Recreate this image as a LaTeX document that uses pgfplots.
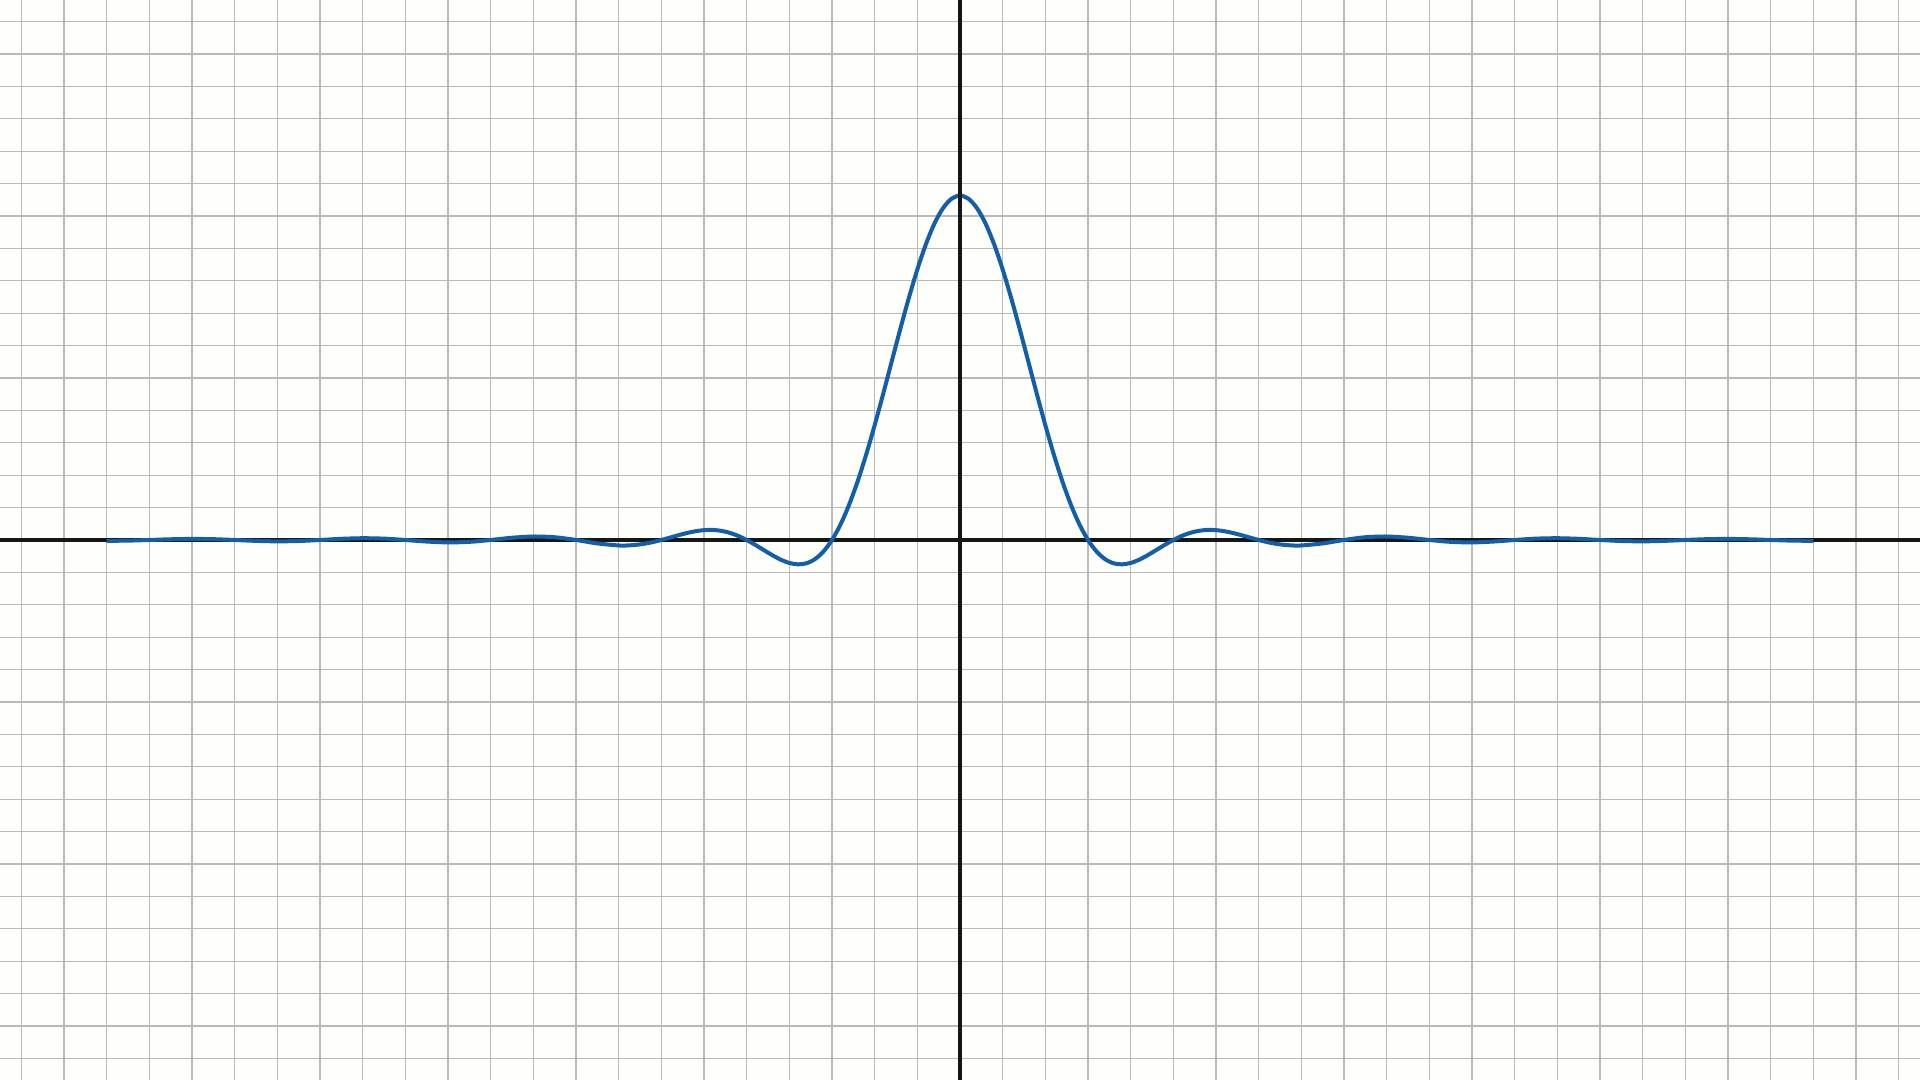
\documentclass[border=0pt]{standalone}
\usepackage{pgfplots}
\pgfplotsset{compat=1.18}
\usepackage{pgfplotstable}
\definecolor{bgcol}{RGB}{254,254,250}
\definecolor{gridcol}{RGB}{186,186,186}
\definecolor{curvecol}{RGB}{18,94,168}
\definecolor{axcol}{RGB}{22,22,22}
\pgfplotstableread{
x y
-20 -0.0266
-19.5 -0.0198
-19 0
-18.5 0.0220
-18 0.0329
-17.5 0.0246
-17 0
-16.5 -0.0277
-16 -0.0417
-15.5 -0.0314
-15 0
-14.5 0.0359
-14 0.0545
-13.5 0.0415
-13 0
-12.5 -0.0484
-12 -0.0743
-11.5 -0.0573
-11 0
-10.5 0.0688
-10 0.1074
-9.5 0.0842
-9 0
-8.5 -0.1055
-8.0 -0.169
-7.8 -0.169
-7.6 -0.151
-7.4 -0.116
-7.2 -0.065
-7.0 0
-6.8 0.073
-6.6 0.147
-6.4 0.215
-6.2 0.270
-6.0 0.304
-5.8 0.310
-5.6 0.283
-5.4 0.222
-5.2 0.126
-5.0 0
-4.8 -0.149
-4.6 -0.310
-4.4 -0.468
-4.2 -0.608
-4.0 -0.709
-3.8 -0.752
-3.6 -0.719
-3.4 -0.592
-3.2 -0.355
-3.0 0
-2.8 0.480
-2.6 1.085
-2.4 1.807
-2.2 2.633
-2.0 3.543
-1.8 4.513
-1.6 5.513
-1.4 6.509
-1.2 7.466
-1.0 8.349
-0.8 9.125
-0.6 9.763
-0.4 10.238
-0.2 10.531
0 10.630
0.2 10.531
0.4 10.238
0.6 9.763
0.8 9.125
1.0 8.349
1.2 7.466
1.4 6.509
1.6 5.513
1.8 4.513
2.0 3.543
2.2 2.633
2.4 1.807
2.6 1.085
2.8 0.480
3.0 0
3.2 -0.355
3.4 -0.592
3.6 -0.719
3.8 -0.752
4.0 -0.709
4.2 -0.608
4.4 -0.468
4.6 -0.310
4.8 -0.149
5.0 0
5.2 0.126
5.4 0.222
5.6 0.283
5.8 0.310
6.0 0.304
6.2 0.270
6.4 0.215
6.6 0.147
6.8 0.073
7.0 0
7.2 -0.065
7.4 -0.116
7.6 -0.151
7.8 -0.169
8.0 -0.169
8.5 -0.1055
9 0
9.5 0.0842
10 0.1074
10.5 0.0688
11 0
11.5 -0.0573
12 -0.0743
12.5 -0.0484
13 0
13.5 0.0415
14 0.0545
14.5 0.0359
15 0
15.5 -0.0314
16 -0.0417
16.5 -0.0277
17 0
17.5 0.0246
18 0.0329
18.5 0.0220
19 0
19.5 -0.0198
20 -0.0266
}\curvedata
\begin{document}
\begin{tikzpicture}
\begin{axis}[
  name=ax,
  width=480pt, height=270pt, scale only axis,
  xmin=-22.5, xmax=22.5, ymin=-16.6667, ymax=16.6667,
  xtick={-22,-21,...,22}, ytick={-16,-15,...,16},
  xticklabels={}, yticklabels={},
  major tick length=0pt,
  axis line style={draw=none},
  grid=major,
  grid style={line width=0.3pt, gridcol},
  axis background/.style={fill=bgcol},
]
\addplot[axcol, line width=0.85pt] coordinates {(-22.5,0) (22.5,0)};
\addplot[curvecol, line width=1pt, smooth, no marks] table[x=x,y=y] {\curvedata};
\addplot[axcol, line width=0.85pt] coordinates {(0,-16.6667) (0,16.6667)};
\end{axis}
\pgfresetboundingbox
\useasboundingbox (ax.south west) rectangle (ax.north east);
\end{tikzpicture}
\end{document}
